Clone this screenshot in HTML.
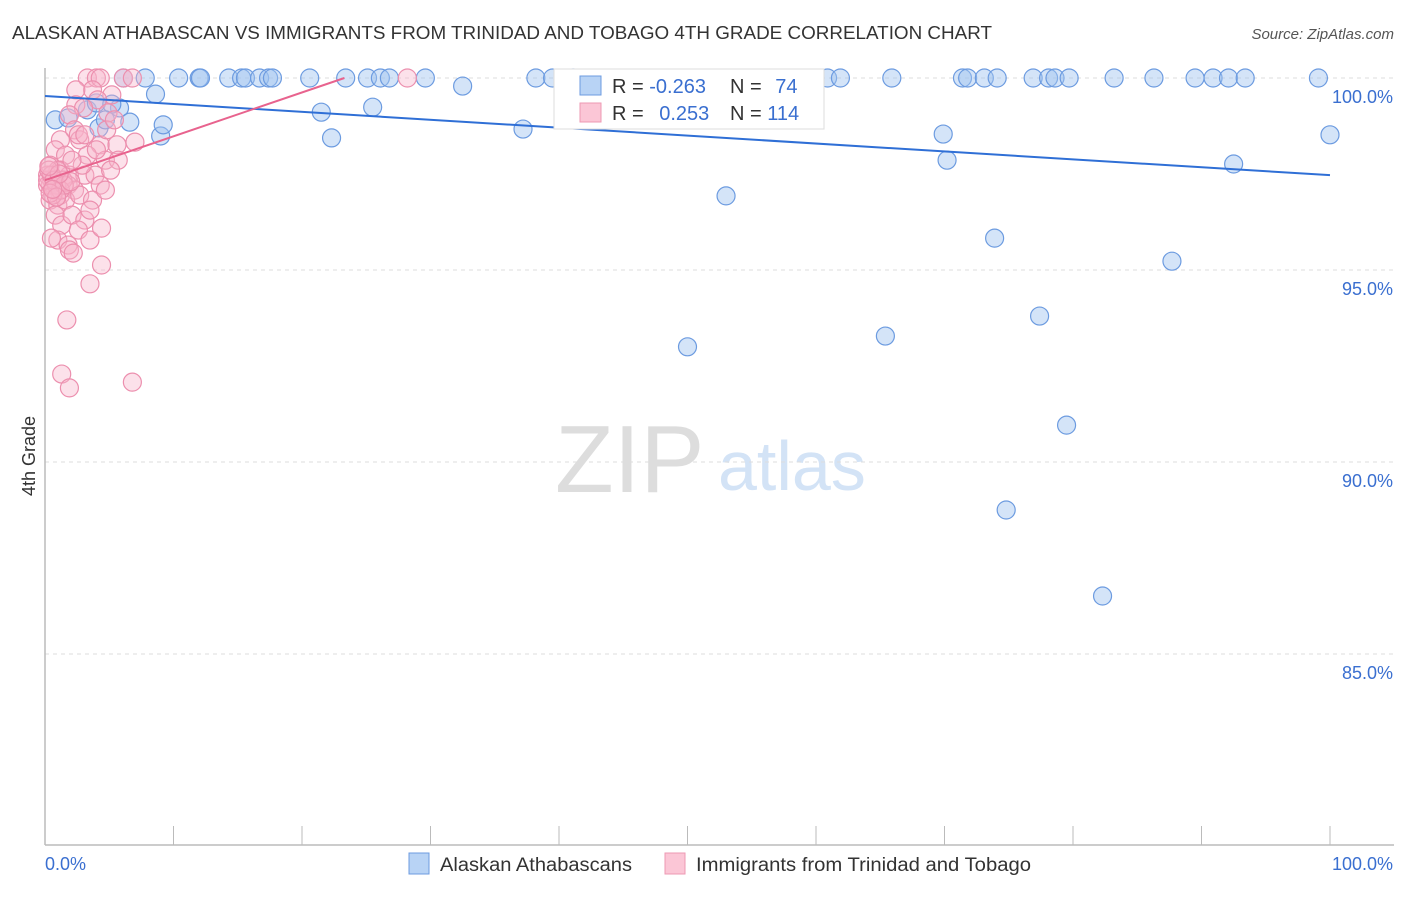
<!DOCTYPE html>
<html><head><meta charset="utf-8"><style>
body{margin:0;background:#fff;font-family:"Liberation Sans",sans-serif}
svg text{font-family:"Liberation Sans",sans-serif}
</style></head><body>
<svg id="c" width="1406" height="892" xmlns="http://www.w3.org/2000/svg">
<text x="12" y="39" font-size="18" fill="#333" textLength="980" lengthAdjust="spacingAndGlyphs">ALASKAN ATHABASCAN VS IMMIGRANTS FROM TRINIDAD AND TOBAGO 4TH GRADE CORRELATION CHART</text>
<text x="1394" y="39" font-size="15" fill="#555" font-style="italic" text-anchor="end">Source: ZipAtlas.com</text>
<text x="35" y="456" font-size="18" fill="#333" transform="rotate(-90 35 456)" text-anchor="middle">4th Grade</text>
<text x="555" y="492" font-size="96" fill="#ddd" font-family="Liberation Serif">ZIP</text>
<text x="718" y="490" font-size="70" fill="#d3e3f6">atlas</text>
<g id="grid"></g><g id="axes"></g><g id="pts"></g><g id="lines"></g>
<g>
<rect x="554" y="69" width="270" height="60" fill="#fff" stroke="#ddd"/>
<rect x="580" y="76" width="21" height="19" fill="#b8d3f5" stroke="#6c9be0"/>
<rect x="580" y="103" width="21" height="19" fill="#fbc6d6" stroke="#ee98b3"/>
<text x="612" y="93" font-size="20" fill="#333">R = <tspan fill="#3a6fd0">-0.263</tspan></text>
<text x="730" y="93" font-size="20" fill="#333">N = <tspan fill="#3a6fd0" dx="8">74</tspan></text>
<text x="612" y="120" font-size="20" fill="#333">R = <tspan fill="#3a6fd0" dx="10">0.253</tspan></text>
<text x="730" y="120" font-size="20" fill="#333">N = <tspan fill="#3a6fd0">114</tspan></text>
</g>
<g>
<rect x="409" y="853" width="20" height="21" fill="#b8d3f5" stroke="#6c9be0"/>
<text x="440" y="871" font-size="19" fill="#333" textLength="192" lengthAdjust="spacingAndGlyphs">Alaskan Athabascans</text>
<rect x="665" y="853" width="20" height="21" fill="#fbc6d6" stroke="#ee98b3"/>
<text x="696" y="871" font-size="19" fill="#333" textLength="335" lengthAdjust="spacingAndGlyphs">Immigrants from Trinidad and Tobago</text>
</g>
</svg>
<script>
const yTicks=[100,95,90,85];
const xTickLabels=["0.0%","100.0%"];
const blueX=[6.1,7.8,10.4,12.0,12.1,14.3,15.3,15.6,16.7,17.4,17.7,20.6,23.4,25.1,26.1,26.8,29.6,38.2,39.5,41.1,60.9,61.9,65.9,71.4,71.8,73.1,74.1,76.9,78.1,78.6,79.7,83.2,86.3,89.5,90.9,92.1,93.4,99.1,
8.6,32.5,0.8,1.8,3.3,4.0,5.8,5.2,4.2,4.7,6.6,9.0,9.2,21.5,22.3,25.5,37.2,53.0,69.9,70.2,100,92.5,73.9,87.7,77.4,50.0,65.4,79.5,74.8,82.3,58.1];
const blueY=[100,100,100,100,100,100,100,100,100,100,100,100,100,100,100,100,100,100,100,100,100,100,100,100,100,100,100,100,100,100,100,100,100,100,100,100,100,100,
99.58,99.79,98.91,98.96,99.17,99.35,99.22,99.32,98.70,98.91,98.85,98.49,98.78,99.11,98.44,99.24,98.67,96.93,98.54,97.86,98.52,97.76,95.83,95.23,93.80,93.0,93.28,90.96,88.75,86.51,98.96];
const pinkX=[3.3,4.0,4.3,6.1,6.8,28.2,3.7,2.4,5.2,4.1,2.4,3.0,4.9,1.9,2.3,2.7,4.3,5.6,7.0,1.2,0.8,1.6,3.3,4.7,5.7,0.4,1.2,1.9,3.1,3.9,5.1,4.3,0.5,0.8,1.2,1.8,2.3,0.4,1.0,1.6,2.7,3.7,4.7,0.4,0.8,1.3,2.1,3.1,1.0,1.8,2.6,3.5,4.4,0.5,1.9,2.2,4.4,3.5,1.7,1.3,1.9,6.8,2.6,2.9,3.5,1.0,0.2,0.2,0.6,1.4,2.1,3.1,4.0,4.8,5.4,0.2,0.5,0.9,1.2,0.3,0.7,1.5,0.4,0.9,2.0,1.1,0.3,0.6];
const pinkY=[100,100,100,100,100,100,99.69,99.69,99.56,99.43,99.30,99.22,99.09,99.04,98.65,98.39,98.26,98.26,98.33,98.39,98.13,97.99,97.99,97.86,97.86,97.73,97.60,97.47,97.47,97.47,97.60,97.21,97.34,97.08,96.95,97.21,97.08,96.82,96.69,96.82,96.95,96.82,97.08,97.21,96.43,96.17,96.43,96.30,95.78,95.65,96.04,95.78,96.09,95.83,95.52,95.44,95.13,94.64,93.70,92.29,91.93,92.08,98.52,97.73,96.56,97.60,97.47,97.21,96.95,97.34,97.86,98.52,98.13,98.65,98.91,97.34,97.47,97.21,97.08,97.60,97.34,97.21,97.0,96.9,97.3,97.5,97.7,97.1];
const blueLine=[[0,99.53],[100,97.47]];
const pinkLine=[[0,97.34],[23.3,100]];
const NS="http://www.w3.org/2000/svg";
const sx=v=>45+v*12.85, sy=v=>78+(100-v)*38.4;
function mk(t,a,p){const e=document.createElementNS(NS,t);for(const k in a)e.setAttribute(k,a[k]);document.getElementById(p).appendChild(e);return e;}
yTicks.forEach(t=>{
 const l=mk('line',{x1:45,x2:1394,y1:sy(t),y2:sy(t),stroke:'#ddd','stroke-dasharray':'4 4'},'grid');
 
 
 const tx=mk('text',{x:1393,y:sy(t)+25,'font-size':18,fill:'#3a6fd0','text-anchor':'end'},'grid');tx.textContent=t.toFixed(1)+'%';
 
 
});
const ax=mk('line',{x1:45,x2:1394,y1:845,y2:845,stroke:'#bbb','stroke-width':1.5},'axes');


const ay=mk('line',{x1:45,x2:45,y1:68,y2:845,stroke:'#bbb','stroke-width':1.5},'axes');


for(let i=1;i<=10;i++){const t=mk('line',{x1:sx(i*10),x2:sx(i*10),y1:826,y2:845,stroke:'#bbb'},'axes');
 
 }
const xl0=mk('text',{x:45,y:870,'font-size':18,fill:'#3a6fd0'},'axes');xl0.textContent=xTickLabels[0];


const xl1=mk('text',{x:1393,y:870,'font-size':18,fill:'#3a6fd0','text-anchor':'end'},'axes');xl1.textContent=xTickLabels[1];


blueX.forEach((x,i)=>{const c=mk('circle',{cx:sx(x),cy:sy(blueY[i]),r:9,fill:'rgba(160,196,240,0.45)',stroke:'#6c9be0','stroke-width':1.2},'pts');
 
 });
pinkX.forEach((x,i)=>{const c=mk('circle',{cx:sx(x),cy:sy(pinkY[i]),r:9,fill:'rgba(248,180,202,0.4)',stroke:'#ec8fae','stroke-width':1.2},'pts');
 
 });
const bl=mk('line',{x1:sx(blueLine[0][0]),y1:sy(blueLine[0][1]),x2:sx(blueLine[1][0]),y2:sy(blueLine[1][1]),stroke:'#2f6fd6','stroke-width':2},'lines');


const pl=mk('line',{x1:sx(pinkLine[0][0]),y1:sy(pinkLine[0][1]),x2:sx(pinkLine[1][0]),y2:sy(pinkLine[1][1]),stroke:'#e8638e','stroke-width':2},'lines');


</script>
</body></html>
